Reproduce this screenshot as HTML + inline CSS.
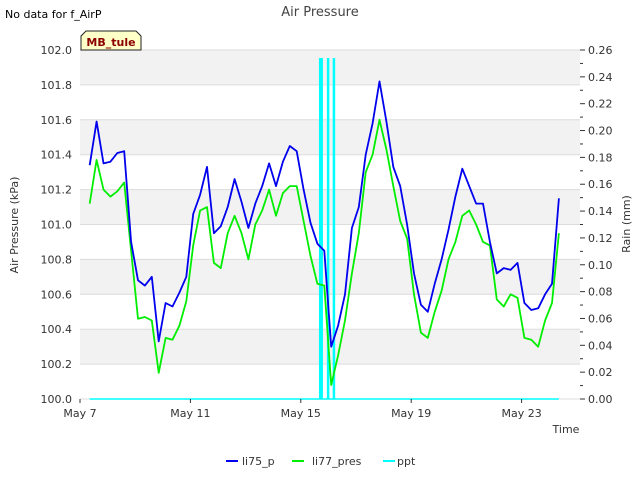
<!DOCTYPE html>
<html><head><meta charset="utf-8"><style>
body{margin:0;background:#fff;}
svg{display:block;font-family:"DejaVu Sans","Liberation Sans",sans-serif;}
</style></head><body>
<svg id="chart" width="640" height="480" viewBox="0 0 640 480">
<text x="5" y="18" font-size="11" fill="#000">No data for f_AirP</text>
<text x="320" y="16" font-size="13" fill="#444" text-anchor="middle">Air Pressure</text>
<g id="bands"></g>
<g id="grid"></g>
<g id="series"></g>
<g id="axes"></g>
<g>
<path d="M81,50 L81,36 L86,31 L136,31 L141,36 L141,50 Z" fill="#ffffc8" stroke="#222" stroke-width="1"/>
<text x="111" y="46" font-size="11" font-weight="bold" fill="#8b0000" text-anchor="middle">MB_tule</text>
</g>
<text transform="translate(18,225) rotate(-90)" font-size="11" fill="#333" text-anchor="middle">Air Pressure (kPa)</text>
<text transform="translate(630,224) rotate(-90)" font-size="11" fill="#333" text-anchor="middle">Rain (mm)</text>
<text x="566" y="433" font-size="11" fill="#333" text-anchor="middle">Time</text>
<g>
<g><line x1="226" y1="461" x2="238" y2="461" stroke="#0000ee" stroke-width="2"/><text x="242" y="465" font-size="11" fill="#333">li75_p</text></g>
<g><line x1="292" y1="461" x2="304" y2="461" stroke="#00ee00" stroke-width="2"/><text x="312" y="465" font-size="11" fill="#333">li77_pres</text></g>
<g><line x1="383" y1="461" x2="395" y2="461" stroke="#00ffff" stroke-width="2"/><text x="397" y="465" font-size="11" fill="#333">ppt</text></g>
</g>
</svg>
<script>
const startDay = 7.35;      // May 7.35
const stepDay = 0.25;
const li75 = [101.34,101.59,101.35,101.36,101.41,101.42,100.9,100.68,100.65,100.7,100.33,100.55,100.53,100.61,100.7,101.06,101.17,101.33,100.95,100.99,101.1,101.26,101.13,100.98,101.12,101.22,101.35,101.22,101.36,101.45,101.42,101.2,101.01,100.89,100.85,100.3,100.42,100.6,100.98,101.1,101.4,101.58,101.82,101.59,101.33,101.22,101.0,100.72,100.54,100.5,100.66,100.8,100.97,101.16,101.32,101.22,101.12,101.12,100.9,100.72,100.75,100.74,100.78,100.55,100.51,100.52,100.6,100.66,101.15];
const li77 = [101.12,101.37,101.2,101.16,101.19,101.24,100.85,100.46,100.47,100.45,100.15,100.35,100.34,100.42,100.56,100.88,101.08,101.1,100.78,100.75,100.95,101.05,100.95,100.8,101.0,101.08,101.2,101.05,101.18,101.22,101.22,101.02,100.82,100.66,100.65,100.08,100.25,100.45,100.72,100.95,101.3,101.4,101.6,101.43,101.22,101.02,100.92,100.6,100.38,100.35,100.5,100.62,100.8,100.9,101.05,101.08,101.0,100.9,100.88,100.57,100.53,100.6,100.58,100.35,100.34,100.3,100.45,100.55,100.95];
const pptDays = [15.73, 15.99, 16.2];
const pptVals = [0.254, 0.254, 0.254];
const pptWidths = [4, 2.5, 2.5];
const xTickDays = [7, 11, 15, 19, 23];
const xTickLabels = ["May 7","May 11","May 15","May 19","May 23"];
const yTicks = [100.0,100.2,100.4,100.6,100.8,101.0,101.2,101.4,101.6,101.8,102.0];
const y2Ticks = [0,0.02,0.04,0.06,0.08,0.10,0.12,0.14,0.16,0.18,0.20,0.22,0.24,0.26];

const L=80,R=580,T=50,B=399;
const xS=d=>L+(d-7)*27.6;
const yS=v=>B-(v-100)/2*(B-T);
const y2S=v=>B-v/0.26*(B-T);
const NS="http://www.w3.org/2000/svg";
function mk(tag,attrs,parent){const e=document.createElementNS(NS,tag);for(const k in attrs)e.setAttribute(k,attrs[k]);parent.appendChild(e);return e;}
const bands=document.getElementById('bands'),grid=document.getElementById('grid'),series=document.getElementById('series'),axes=document.getElementById('axes');
mk('rect',{x:L,y:T,width:R-L,height:B-T,fill:'#fff'},bands);
for(let i=0;i<yTicks.length-1;i++){
  if(i%2===1){const r=mk('rect',{x:L,y:yS(yTicks[i+1]),width:R-L,height:yS(yTicks[i])-yS(yTicks[i+1]),fill:'#f2f2f2'},bands);
  
  }
}
yTicks.forEach(v=>{
  const l=mk('line',{x1:L,x2:R,y1:yS(v),y2:yS(v),stroke:'#dcdcdc','stroke-width':1},grid);
  
  
  const t=mk('text',{x:L-8,y:yS(v)+4,'font-size':11,fill:'#333','text-anchor':'end'},axes);
  t.textContent=v.toFixed(1);
  
  
});
y2Ticks.forEach((v,i)=>{
  const t=mk('text',{x:R+8,y:y2S(v)+4,'font-size':11,fill:'#333'},axes);
  t.textContent=v.toFixed(2);
  
  
  mk('line',{x1:R,x2:R+5,y1:y2S(v),y2:y2S(v),stroke:'#333'},axes);
  if(i<y2Ticks.length-1){const m=(v+y2Ticks[i+1])/2;mk('line',{x1:R,x2:R+3,y1:y2S(m),y2:y2S(m),stroke:'#333'},axes);}
});
xTickDays.forEach((d,i)=>{
  mk('line',{x1:xS(d),x2:xS(d),y1:B,y2:B+4,stroke:'#333'},axes);
  const t=mk('text',{x:xS(d),y:B+18,'font-size':11,fill:'#333','text-anchor':'middle'},axes);
  t.textContent=xTickLabels[i];
  
  
});
// ppt baseline and bars
const base=mk('line',{x1:xS(startDay),x2:xS(startDay+stepDay*(li75.length-1)),y1:y2S(0),y2:y2S(0),stroke:'#00ffff','stroke-width':1.5},series);


pptDays.forEach((d,i)=>{
  const b=mk('rect',{x:xS(d)-pptWidths[i]/2,y:y2S(pptVals[i]),width:pptWidths[i],height:y2S(0)-y2S(pptVals[i]),fill:'#00ffff'},series);
  
  
});
function line(arr,color,name){
  const pts=arr.map((v,i)=>xS(startDay+i*stepDay).toFixed(1)+','+yS(v).toFixed(1)).join(' ');
  const p=mk('polyline',{points:pts,fill:'none',stroke:color,'stroke-width':1.8,'stroke-linejoin':'round'},series);
  
  
}
line(li77,'#00ee00','li77-pres-line');
line(li75,'#0000ee','li75-p-line');
</script>
</body></html>
